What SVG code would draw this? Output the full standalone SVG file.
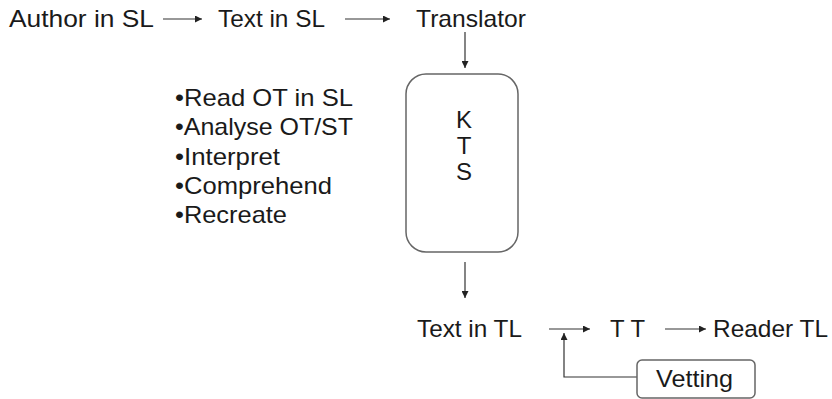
<svg xmlns="http://www.w3.org/2000/svg" width="832" height="399" viewBox="0 0 832 399">
<style>
text{font-family:"Liberation Sans",Arial,sans-serif;font-size:24px;fill:#1a1a1a}
.c{text-anchor:middle}
.ln{stroke:#333;stroke-width:1.2;fill:none}
.box{fill:#fff;stroke:#666;stroke-width:1.5}
</style>
<defs>
<marker id="ah" viewBox="0 0 10 10" refX="10" refY="5" markerWidth="7" markerHeight="7" markerUnits="userSpaceOnUse" orient="auto">
<path d="M0,0 L10,5 L0,10 z" fill="#222"/>
</marker>
</defs>
<rect width="832" height="399" fill="#fff"/>
<g id="connectors">
<line class="ln" x1="163" y1="19" x2="202" y2="19" marker-end="url(#ah)"/>
<line class="ln" x1="345" y1="19" x2="390" y2="19" marker-end="url(#ah)"/>
<line class="ln" x1="465" y1="32" x2="465" y2="68" marker-end="url(#ah)"/>
<line class="ln" x1="465" y1="262" x2="465" y2="298" marker-end="url(#ah)"/>
<line class="ln" x1="549" y1="329" x2="590" y2="329" marker-end="url(#ah)"/>
<line class="ln" x1="665" y1="329" x2="706" y2="329" marker-end="url(#ah)"/>
<polyline class="ln" points="637,377 564,377 564,333" marker-end="url(#ah)"/>
</g>
<g id="author"><text x="9" y="27" textLength="145" lengthAdjust="spacingAndGlyphs">Author in SL</text></g>
<g id="text-sl"><text x="218" y="27" textLength="107" lengthAdjust="spacingAndGlyphs">Text in SL</text></g>
<g id="translator"><text x="416" y="27" textLength="110" lengthAdjust="spacingAndGlyphs">Translator</text></g>
<g id="steps">
<text x="175" y="106" textLength="178" lengthAdjust="spacingAndGlyphs">•Read OT in SL</text>
<text x="175" y="135" textLength="178" lengthAdjust="spacingAndGlyphs">•Analyse OT/ST</text>
<text x="175" y="165" textLength="105" lengthAdjust="spacingAndGlyphs">•Interpret</text>
<text x="175" y="194" textLength="157" lengthAdjust="spacingAndGlyphs">•Comprehend</text>
<text x="175" y="223" textLength="112" lengthAdjust="spacingAndGlyphs">•Recreate</text>
</g>
<g id="kts">
<rect class="box" x="406" y="74" width="112" height="178" rx="20"/>
<text class="c" x="464" y="128">K</text>
<text class="c" x="464" y="154">T</text>
<text class="c" x="464" y="180">S</text>
</g>
<g id="text-tl"><text x="417" y="337" textLength="105" lengthAdjust="spacingAndGlyphs">Text in TL</text></g>
<g id="tt"><text x="610" y="337" textLength="35" lengthAdjust="spacingAndGlyphs">T T</text></g>
<g id="reader"><text x="713" y="337" textLength="115" lengthAdjust="spacingAndGlyphs">Reader TL</text></g>
<g id="vetting">
<rect class="box" x="637" y="360" width="118" height="38" rx="5"/>
<text x="656" y="387" textLength="77" lengthAdjust="spacingAndGlyphs">Vetting</text>
</g>
</svg>
